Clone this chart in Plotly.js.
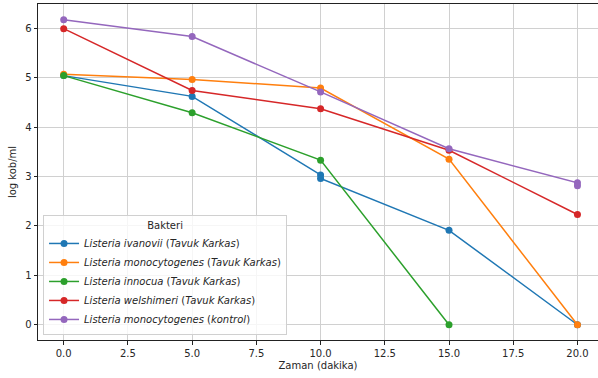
<!DOCTYPE html>
<html>
<head>
<meta charset="utf-8">
<script src="https://cdn.plot.ly/plotly-3.0.1.min.js"></script>
<style>html,body{margin:0;padding:0;background:#fff;}#chart{width:598px;height:378px;}</style>
</head>
<body>
<div id="chart"></div>
<script>
// Data
const names = [
  "<i>Listeria ivanovii</i> (<i>Tavuk Karkas</i>)",
  "<i>Listeria monocytogenes</i> (<i>Tavuk Karkas</i>)",
  "<i>Listeria innocua</i> (<i>Tavuk Karkas</i>)",
  "<i>Listeria welshimeri</i> (<i>Tavuk Karkas</i>)",
  "<i>Listeria monocytogenes</i> (<i>kontrol</i>)"
];
const colors = ["#1f77b4", "#ff7f0e", "#2ca02c", "#d62728", "#9467bd"];

const ivanoviiX = [0, 5, 10, 10, 15, 20];
const ivanoviiY = [5.04, 4.62, 3.03, 2.96, 1.91, 0];
const monoKarkasX = [0, 5, 10, 15, 20];
const monoKarkasY = [5.07, 4.96, 4.79, 3.35, 0];
const innocuaX = [0, 5, 10, 15];
const innocuaY = [5.04, 4.29, 3.33, 0];
const welshimeriX = [0, 5, 10, 15, 20];
const welshimeriY = [5.99, 4.74, 4.37, 3.53, 2.23];
const kontrolX = [0, 5, 10, 15, 20, 20];
const kontrolY = [6.17, 5.83, 4.71, 3.56, 2.87, 2.81];

const xs = [ivanoviiX, monoKarkasX, innocuaX, welshimeriX, kontrolX];
const ys = [ivanoviiY, monoKarkasY, innocuaY, welshimeriY, kontrolY];

const traces = names.map((n, i) => ({
  x: xs[i], y: ys[i], name: n, type: "scatter", mode: "lines+markers",
  line: {color: colors[i], width: 1.5},
  marker: {color: colors[i], size: 7}
}));

const font = {family: "DejaVu Sans, sans-serif", size: 10, color: "#262626"};
const layout = {
  width: 598, height: 378,
  margin: {l: 38, r: 0, t: 4, b: 38},
  paper_bgcolor: "#fff", plot_bgcolor: "#fff",
  font: font,
  showlegend: true,
  xaxis: {
    range: [-1, 20.8], tickvals: [0, 2.5, 5, 7.5, 10, 12.5, 15, 17.5, 20],
    ticktext: ["0.0", "2.5", "5.0", "7.5", "10.0", "12.5", "15.0", "17.5", "20.0"],
    showgrid: true, gridcolor: "#d0d0d0", gridwidth: 1, zeroline: false,
    showline: true, linecolor: "#222", linewidth: 1, mirror: true,
    ticks: "outside", ticklen: 3.5, tickcolor: "#222",
    title: {text: "Zaman (dakika)", font: font, standoff: 4}
  },
  yaxis: {
    range: [-0.309, 6.489], tickvals: [0, 1, 2, 3, 4, 5, 6],
    showgrid: true, gridcolor: "#d0d0d0", gridwidth: 1, zeroline: false,
    showline: true, linecolor: "#222", linewidth: 1,
    ticks: "outside", ticklen: 3.5, tickcolor: "#222",
    title: {text: "log kob/ml", font: font, standoff: 6}
  },
  legend: {
    x: 0.009, y: 0.015, xanchor: "left", yanchor: "bottom",
    bgcolor: "rgba(255,255,255,0.8)", bordercolor: "#d0d0d0", borderwidth: 1,
    title: {text: "Bakteri", side: "top center", font: font},
    font: font, tracegroupgap: 0, itemwidth: 30
  }
};

Plotly.newPlot("chart", traces, layout, {displayModeBar: false, staticPlot: true});
</script>
</body>
</html>
